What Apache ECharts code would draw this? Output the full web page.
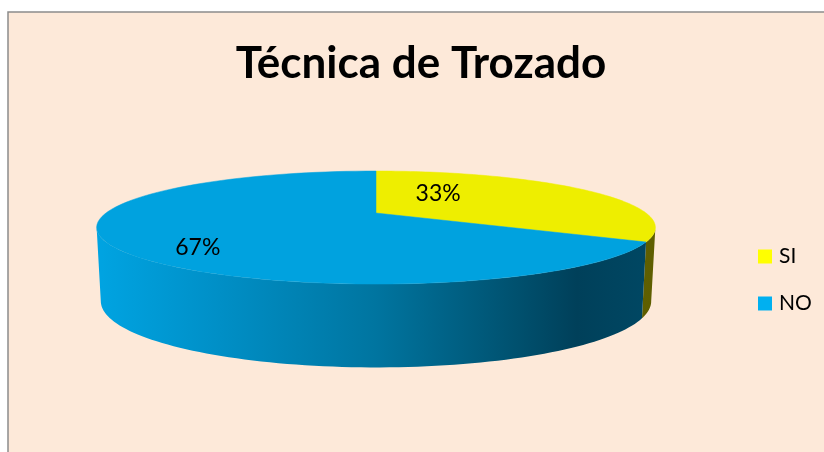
<!DOCTYPE html>
<html>
<head>
<meta charset="utf-8">
<title>Técnica de Trozado</title>
<script src="https://cdn.jsdelivr.net/npm/echarts@6/dist/echarts.min.js"></script>
<style>
    html, body { margin: 0; padding: 0; background: #ffffff; }
    #chart { width: 824px; height: 452px; }
</style>
</head>
<body>
<div id="chart"></div>
<script>
// data
const categories = ['SI', 'NO'];
const values = [33, 67];
const legendColors = ['#ffff00', '#00b0f0'];

// look of the 3d slices
const topColors = ['#eeee00', '#00a2df'];
const sideStops = [
    [[0, '#7a7a00'], [1, '#5e5e00']],
    [[0, '#00a4e2'], [0.2, '#0091c9'], [0.5, '#0075a0'], [0.75, '#00516f'], [0.86, '#00405a'], [1, '#004864']],
];
const labelPos = [[0.23, -0.36], [-0.66, 0.66]];

// projection of the pie disc
const CX = 376;
const CY = 213;
const RX = 270;
const RY = 52.8;
const PERSP = 0.257;
const DEPTH = 71;
const BOTTOM_SHRINK = 0.985;
const STEPS = 90;

const total = values.reduce((acc, v) => acc + v, 0);
const starts = values.map((v, i) => values.slice(0, i).reduce((acc, w) => acc + w, 0) / total * Math.PI * 2);
const percents = values.map(v => Math.round(v / total * 100) + '%');

function proj(theta, r, down) {
    const c = Math.cos(theta);
    const s = 1 / (1 + PERSP * r * c);
    let x = RX * r * Math.sin(theta) * s;
    let y = CY - RY * r * c * s;
    if (down) {
        x *= BOTTOM_SHRINK;
        y += DEPTH * Math.pow(s, 0.54);
    }
    return [CX + x, y];
}

function arc(a, b, down) {
    const pts = [];
    for (let j = 0; j <= STEPS; j++) {
        pts.push(proj(a + (b - a) * j / STEPS, 1, down));
    }
    return pts;
}

const sideFrom = Math.acos(-PERSP);
const sideTo = Math.PI * 2 - sideFrom;

function renderSlice(params, api) {
    const i = params.seriesIndex;
    const a = starts[i];
    const b = a + api.value(0) / total * Math.PI * 2;
    const children = [];

    const s1 = Math.max(a, sideFrom);
    const s2 = Math.min(b, sideTo);
    if (s2 > s1) {
        const side = arc(s1, s2, false).concat(arc(s1, s2, true).reverse());
        children.push({
            type: 'polygon',
            z2: 1,
            shape: { points: side },
            style: {
                fill: new echarts.graphic.LinearGradient(96, 0, 655, 0,
                    sideStops[i].map(st => ({ offset: st[0], color: st[1] })), true),
            },
        });
    }

    children.push({
        type: 'polygon',
        z2: 5,
        shape: { points: [[CX, CY]].concat(arc(a, b, false)) },
        style: { fill: topColors[i], stroke: topColors[i], lineWidth: 0.5 },
    });

    children.push({
        type: 'text',
        z2: 10,
        x: CX + labelPos[i][0] * RX,
        y: CY + labelPos[i][1] * RY,
        style: {
            text: percents[i],
            fill: '#000000',
            font: '23px Lato',
            align: 'center',
            verticalAlign: 'middle',
        },
    });

    return { type: 'group', children };
}

const chart = echarts.init(document.getElementById('chart'), null, { renderer: 'canvas' });

const option = {
    backgroundColor: '#ffffff',
    animation: false,
    graphic: [{
        type: 'rect',
        z: -10,
        shape: { x: 8, y: 12, width: 830, height: 460 },
        style: { fill: '#fde9d9', stroke: '#8c8c8c', lineWidth: 1.5 },
    }],
    title: {
        text: 'Técnica de Trozado',
        left: 416,
        textAlign: 'center',
        top: 37,
        textStyle: {
            fontFamily: 'Lato',
            fontWeight: 'bold',
            fontSize: 44,
            color: '#000000',
        },
    },
    legend: {
        orient: 'vertical',
        left: 753,
        top: 241,
        itemWidth: 14,
        itemHeight: 14,
        itemGap: 26,
        itemStyle: { borderWidth: 0 },
        icon: 'rect',
        data: categories,
        textStyle: {
            fontFamily: 'Lato',
            fontSize: 21,
            color: '#000000',
            padding: [0, 0, 0, 2],
        },
    },
    series: categories.map((name, i) => ({
        type: 'custom',
        name,
        coordinateSystem: 'none',
        itemStyle: { color: legendColors[i] },
        renderItem: renderSlice,
        data: [values[i]],
    })),
};

chart.setOption(option);
</script>
</body>
</html>
